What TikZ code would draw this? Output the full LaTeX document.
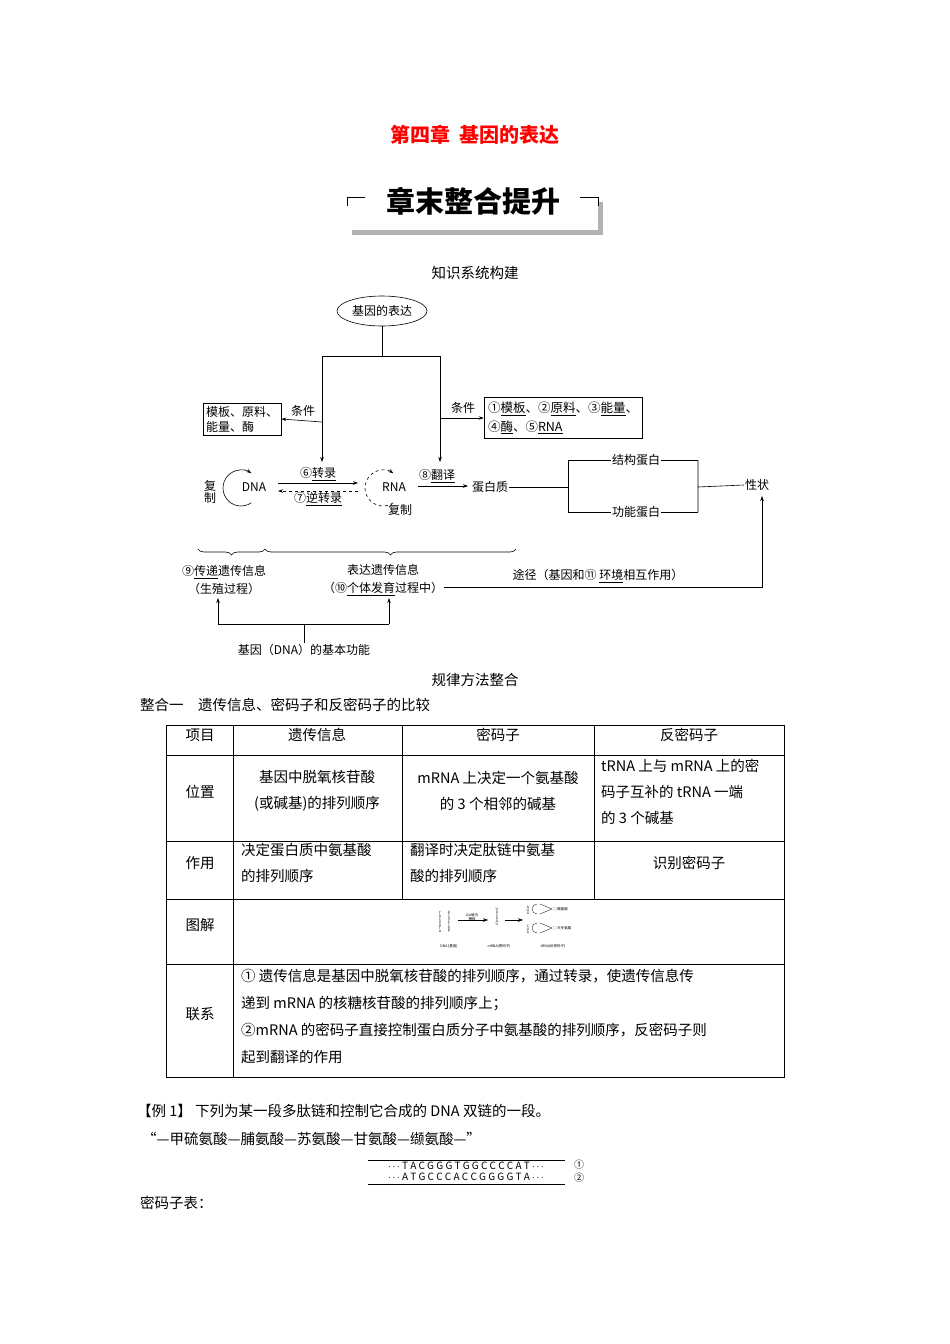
\documentclass[tikz,border=0pt]{standalone}
\usepackage{fontspec}
\setmainfont{Noto Sans CJK SC}
\usetikzlibrary{arrows.meta,decorations.pathreplacing,shapes.geometric}
\begin{document}
\begin{tikzpicture}[x=1pt,y=1pt,
  every node/.style={inner sep=1pt},
  d/.style={font=\fontsize{12}{15}\selectfont},
  t/.style={font=\fontsize{14.5}{26}\selectfont},
  ar/.style={-{Stealth[length=5pt,width=3.5pt]},line width=0.6pt},
  ln/.style={line width=0.6pt}]
\useasboundingbox (0,0) rectangle (950,-1344);
\fill[white] (0,0) rectangle (950,-1344);
% title
\node[font=\fontsize{20}{22}\selectfont\bfseries,text=red] (title) at (475,-135) {第四章\ \ 基因的表达};
\fill[gray!60] (352,-202) rectangle (603,-235);
\fill[white] (347,-197) rectangle (598,-230);
\draw[ln] (347,-206)--(347,-197)--(365,-197) (580,-197)--(598,-197)--(598,-206);
\node[font=\fontsize{29}{30}\selectfont\bfseries] (banner) at (473,-201) {章末整合提升};
\node[t] (h1) at (475,-273) {知识系统构建};
% diagram
\node[d,draw,ellipse,minimum width=90,minimum height=30,line width=0.6pt] (gene) at (382,-311) {基因的表达};
\coordinate (j) at (382,-356);
\draw[ln] (gene.south)--(j);
\draw[ln] (322,-356)--(440,-356);
\node[d,draw,align=left,line width=0.6pt,inner sep=3pt] (lbox) at (242,-419) {模板、原料、\\能量、酶};
\node[d,draw,align=left,line width=0.6pt,inner sep=4pt,font=\fontsize{12.5}{19}\selectfont] (rbox) at (563,-418) {①\underline{模板}、②\underline{原料}、③\underline{能量}、\\④\underline{酶}、⑤\underline{RNA}};
\draw[ar] (322,-422)--(lbox.east);
\node[d] (c1) at (303,-411) {条件};
\draw[ar] (440,-418)--(rbox.west);
\node[d] (c2) at (463,-408) {条件};
\draw[ar] (322,-356)--(322,-462);
\draw[ar] (440,-356)--(440,-462);
\node[d,align=center] (fz1) at (210,-492) {复\\[-3pt]制};
\node[d] (dna) at (254,-487) {DNA};
\draw[ar] (241,-488) ++(-55:18) arc[start angle=-55,end angle=-305,radius=18];
\node[d] (rna) at (394,-487) {RNA};
\draw[ar,dashed] (383,-488) ++(-55:18) arc[start angle=-55,end angle=-305,radius=18];
\node[d] (fz2) at (400,-510) {复制};
\draw[ar] (278,-483)--(358,-483);
\node[d] (zl) at (318,-474) {⑥\underline{转录}};
\draw[ar,dashed] (358,-491)--(278,-491);
\node[d] (nzl) at (318,-499) {⑦\underline{逆转录}};
\node[d] (fy) at (437,-476) {⑧\underline{翻译}};
\draw[ar] (418,-486)--(468,-486);
\node[d] (dbz) at (490,-487) {蛋白质};
\node[d] (jg) at (636,-460) {结构蛋白};
\node[d] (gn) at (636,-512) {功能蛋白};
\node[d] (xz) at (757,-485) {性状};
\draw[ln] (dbz.east)--(568,-487) (568,-460)--(568,-512);
\draw[ln] (568,-460)--(jg.west) (jg.east)--(698,-460) (568,-512)--(gn.west) (gn.east)--(698,-512);
\draw[ln] (698,-460)--(698,-512) (698,-487)--(xz.west);
\draw[decorate,decoration={brace,mirror,amplitude=6pt},ln] (198,-549)--(265,-549);
\draw[decorate,decoration={brace,mirror,amplitude=6pt},ln] (265,-549)--(516,-549);
\node[d,align=center,font=\fontsize{12}{18}\selectfont] (cd) at (224,-580) {⑨\underline{传递}遗传信息\\（生殖过程）};
\node[d,align=center,font=\fontsize{12}{18}\selectfont] (bd) at (383,-580) {表达遗传信息\\（⑩\underline{个体发育}过程中）};
\node[d] (tj) at (598,-576) {途径（基因和⑪ \underline{环境}相互作用）};
\draw[ar] (bd.east |- 0,-587)--(762,-587)--(762,-496);
\node[d] (jb) at (304,-650) {基因（DNA）的基本功能};
\draw[ln] (jb.north)--(304,-624);
\draw[ar] (218,-624)--(389,-624) (218,-624)--(218,-598);
\draw[ar] (389,-624)--(389,-598);
% section 2
\node[t] (h2) at (475,-680) {规律方法整合};
\node[t,anchor=west] (h3) at (139,-705) {整合一\quad 遗传信息、密码子和反密码子的比较};
% table
\draw[ln] (166,-725) rectangle (784,-1077);
\foreach \y in {755,841,899,964} \draw[ln] (166,-\y)--(784,-\y);
\draw[ln] (233,-725)--(233,-1077);
\draw[ln] (402,-725)--(402,-899) (594,-725)--(594,-899);
\node[t] (a1) at (200,-735) {项目};
\node[t] (a2) at (317,-735) {遗传信息};
\node[t] (a3) at (498,-735) {密码子};
\node[t] (a4) at (689,-735) {反密码子};
\node[t] (b1) at (200,-792) {位置};
\node[t,align=center] (b2) at (317,-791) {基因中脱氧核苷酸\\(或碱基)的排列顺序};
\node[t,align=center] (b3) at (498,-791) {mRNA 上决定一个氨基酸\\的 3 个相邻的碱基};
\node[t,align=left,anchor=west] (b4) at (600,-792) {tRNA 上与 mRNA 上的密\\码子互补的 tRNA 一端\\的 3 个碱基};
\node[t] (c1r) at (200,-863) {作用};
\node[t,align=left,anchor=west] (c2r) at (240,-863) {决定蛋白质中氨基酸\\的排列顺序};
\node[t,align=left,anchor=west] (c3r) at (409,-863) {翻译时决定肽链中氨基\\酸的排列顺序};
\node[t] (c4r) at (689,-863) {识别密码子};
\node[t] (d1) at (200,-925) {图解};
\begin{scope}[font=\fontsize{3.5}{4}\selectfont]
\node[align=center] (s1) at (440,-922) {T\\[-1pt]A\\[-1pt]C\\[-1pt]G\\[-1pt]A\\[-1pt]T\\[-1pt]α};
\node[align=center] (s2) at (449,-922) {A\\[-1pt]T\\[-1pt]G\\[-1pt]C\\[-1pt]T\\[-1pt]A\\[-1pt]β};
\node[align=center] (s3) at (472,-917) {以α链为\\模板};
\draw[ar,line width=0.3pt] (458,-920)--(488,-920);
\node[align=center] (s4) at (497,-917) {U\\[-1pt]A\\[-1pt]C\\[-1pt]G\\[-1pt]A\\[-1pt]U};
\draw[ar,line width=0.3pt] (505,-920)--(523,-920);
\node[align=center] (s5) at (528,-910) {A\\[-1pt]U\\[-1pt]G};
\node[align=center] (s6) at (528,-929) {C\\[-1pt]U\\[-1pt]A};
\draw[line width=0.3pt] (537,-904) arc[start angle=90,end angle=270,radius=5] (540,-904)--(552,-909) (540,-914)--(552,-909);
\draw[line width=0.3pt] (537,-923) arc[start angle=90,end angle=270,radius=5] (540,-923)--(552,-928) (540,-933)--(552,-928);
\node[anchor=west] (s7) at (552,-909) {□ 酪氨酸};
\node[anchor=west] (s8) at (552,-928) {□ 天冬氨酸};
\node (s9) at (449,-946) {DNA (基因)};
\node (s10) at (499,-946) {mRNA(密码子)};
\node (s11) at (553,-946) {tRNA(反密码子)};
\end{scope}
\node[t] (e1) at (200,-1014) {联系};
\node[t,align=left,anchor=west,font=\fontsize{14.5}{27}\selectfont] (e2) at (240,-1016) {① 遗传信息是基因中脱氧核苷酸的排列顺序，通过转录，使遗传信息传\\递到 mRNA 的核糖核苷酸的排列顺序上；\\②mRNA 的密码子直接控制蛋白质分子中氨基酸的排列顺序，反密码子则\\起到翻译的作用};
% example
\node[t,anchor=west] (ex) at (136,-1111) {【例 1】\ 下列为某一段多肽链和控制它合成的 DNA 双链的一段。};
\node[t,anchor=west] (ex2) at (141,-1139) {“—甲硫氨酸—脯氨酸—苏氨酸—甘氨酸—缬氨酸—”};
\draw[line width=0.4pt] (368,-1160)--(565,-1160) (368,-1184)--(565,-1184);
\node[font=\fontsize{10}{10}\selectfont] (st1) at (466,-1166) {$\cdots$ T A C G G G T G G C C C C A T $\cdots$};
\node[font=\fontsize{10}{10}\selectfont] (st2) at (466,-1177) {$\cdots$ A T G C C C A C C G G G G T A $\cdots$};
\node[font=\fontsize{10}{10}\selectfont] (n1) at (579,-1165) {①};
\node[font=\fontsize{10}{10}\selectfont] (n2) at (579,-1178) {②};
\node[t,anchor=west] (mm) at (139,-1203) {密码子表：};
\end{tikzpicture}
\end{document}
